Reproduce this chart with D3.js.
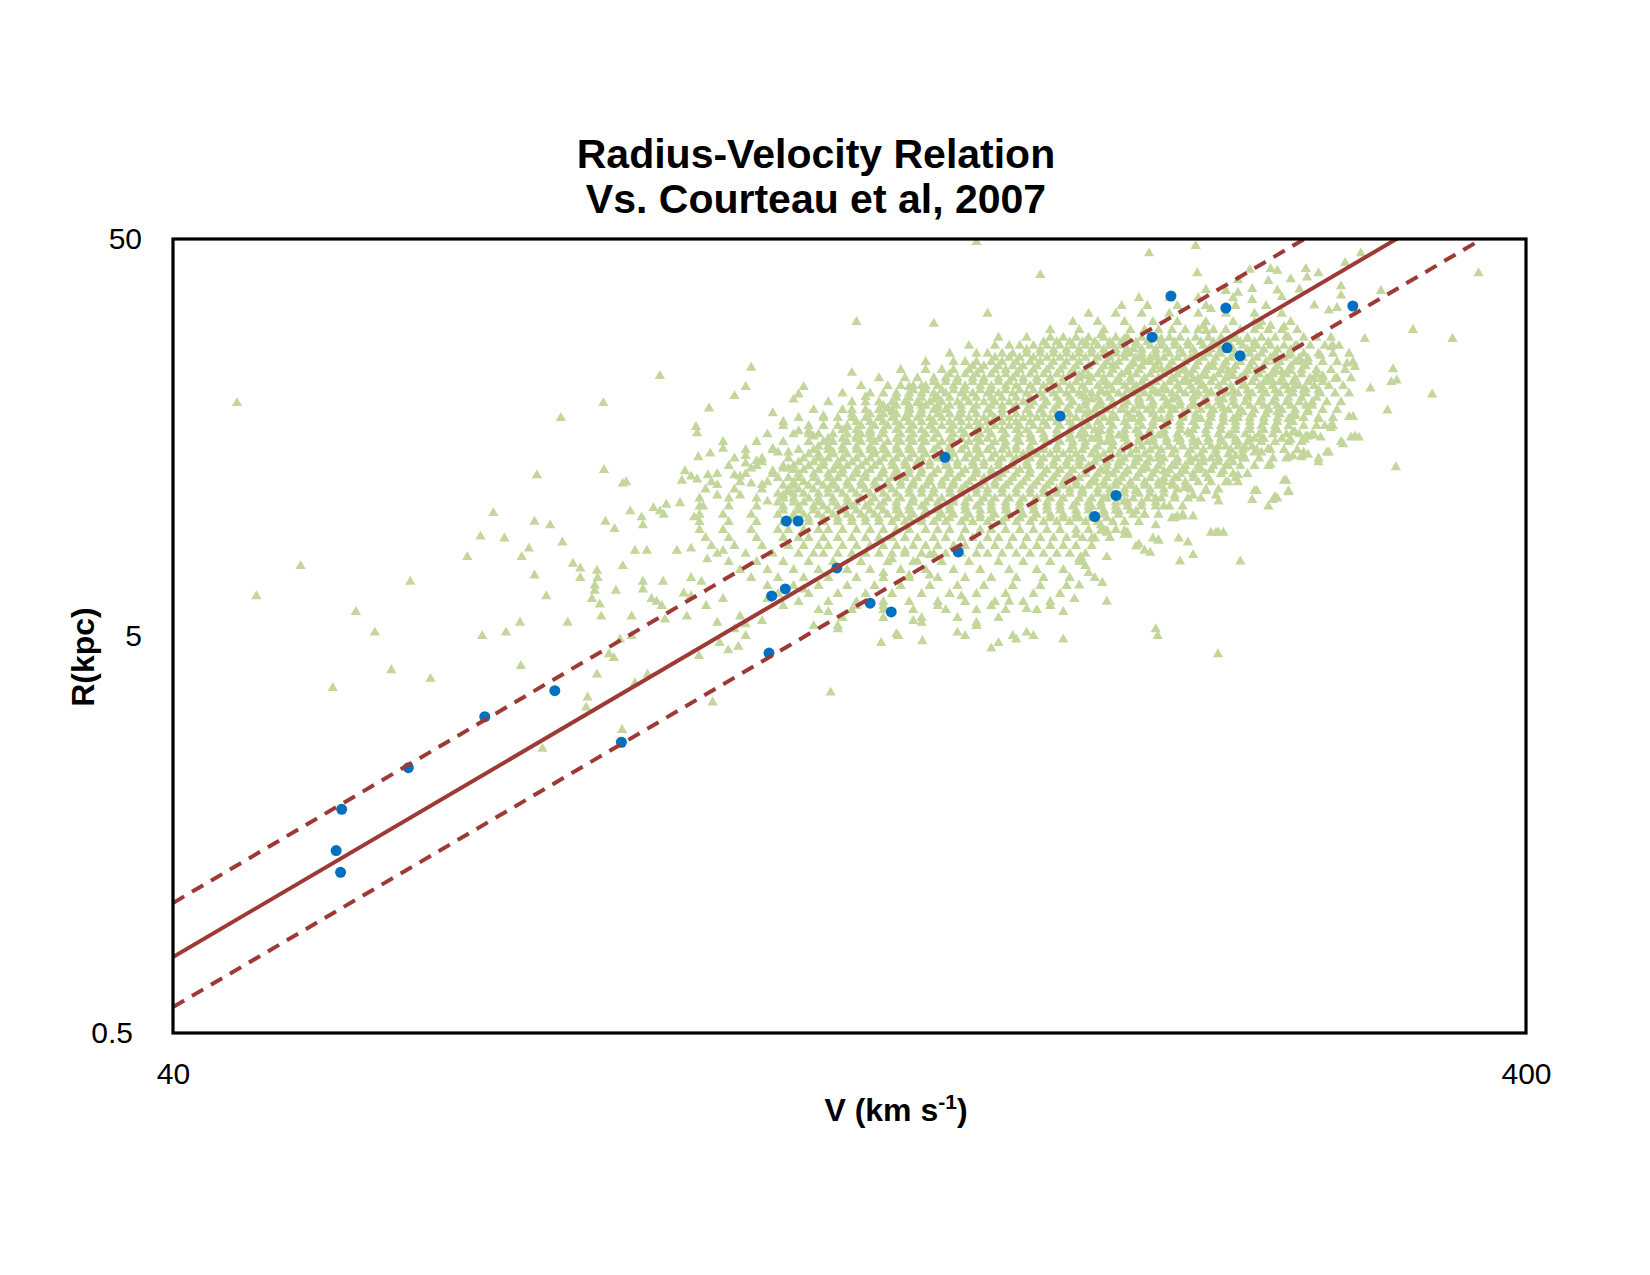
<!DOCTYPE html>
<html>
<head>
  <meta charset="utf-8">
  <title>Radius-Velocity Relation</title>
  <style>
    body { margin: 0; background: #fff; }
    text { font-family: "Liberation Sans", Arial, sans-serif; }
  </style>
</head>
<body>
  <script src="https://cdn.jsdelivr.net/npm/d3@7"></script>
  <script type="text/javascript">

 // Courteau et al. 2007 sample, [V (km/s), R (kpc)] (scattered points)
 var courteau = [
  [44.6,19.3],[49.7,7.5],[46.1,6.3],[54.6,5.75],[56.4,5.1],[59.9,6.85],[66,7.9],[67.5,8.9],[69,10.2],[70.3,8.8],
  [72.4,7.9],[73.3,8.3],[74,9.7],[76,9.5],[74,7.1],[75.5,6.3],[77.6,8.6],[79,7.6],[80,7.4],[80,7.0],
  [82.3,7.3],[82.4,7.0],[82,6.7],[82,6.5],[81.6,6.2],[82.7,6.0],[82.9,5.6],[78.3,5.4],[72.2,5.4],[70.5,5.1],
  [67.7,5.0],[74.3,12.7],[77.4,17.7],[83.2,19.3],[83.3,13.1],[83.5,9.7],[84.8,9.3],[85,6.5],[86,12.1],[86,7.5],
  [52.5,3.7],[58,4.1],[62,3.9],[72.3,4.2],[82.3,4.0],[81,3.5],[80.8,3.3],[75,2.6],[84.7,4.4],[84,4.5],
  [85.6,4.9],[85.9,2.9],[87.3,5.0],[87.8,3.8],[89.7,4.0],[97.9,4.45],[101.4,4.8],[102.9,4.6],[104.7,4.7],[106,5.0],
  [100.2,3.4],[122.5,3.6],[133.5,4.8],[137.4,5.0],[143.2,4.85],[154,5.0],[161,4.65],[163,4.8],[168,4.9],[173,5.0],
  [182,4.9],[236.8,4.5],[213.7,5.0],
  [210.6,46],[228,48],[228.6,41],[259,42],[275.6,40],[281,41],[302,46],[294,43.5],[369,41],[312.5,37],
  [292,38],[292,36],[279,34],[286,33],[290,33.5],[330,29.5],[353,28],[304,28],[287,26.7],[282,25.4],
  [295,24.3],[299,23.8],[319,23.5],[321,22],[318,21.8],[307,21],[341,20.3],[316,18.5],[298,17.8],[301,15.8],
  [297,15.8],[293,15.2],[320.5,13.3],[287,16.7],[282,15.8],[285,14.5],[281,13.7],[276,14.3],[274,14.5],[274.5,15.6],
  [276,15.9],[268,15.6],[269,16.3],[267,14.1],[273,14.1],[259,13.5],[265,12.3],[267,11.5],[261,11.2],[258,10.6],
  [251,11.0],[252,11.6],[246,7.7],[237,9.1],[234,9.1],[227,8.0],[222,7.7],[213,5.2],[196,6.1],[194.5,6.8],
  [192,7.0],[187,6.7],[185.5,6.2],[188,7.7],[187.5,7.9],[196,7.9],[206,8.4],[209,8.2],[211,8.1],[214,8.7],
  [212,8.8],[221.5,8.8],[225,8.6],[219,9.9],[221,10.0],[223,10.0],[202,9.2],[203,9.0],[194,9.2],[196,9.2],
  [191,8.8],[186,9.0],
  [189,27.5],[194,28.6],[198,27.0],[202,28.0],[205,26.4],[215,28.0],[231,30.2],[232,29.3],[234,33.3],[245,36.6],
  [251,35.1],[252,30.9],[259,30.2],[265,30.0],[266,28.4],[264,35.7],[234,26.4],[243,28.0],[249,28.0],[251,26.4],
  [254,30.2],[232,37.2],[240,37.0],[251,37.4],[262,37.1],[272,37.3],[245,39.4],[258,39.2],[268,39.6],[250,41.8],
  [262,41.6],[275,42.0],
  [187,22.6],[190,22.6],[195,22.2],[198,24.0],[202,25.7],[203,23.1],[205,24.2],[208,25.0],[211,24.5],[213,25.2],
  [215,23.5],[220,22.2],[224,23.3],[227,22.2],[232,22.6],[235,23.8],[239,24.0],[241,23.3],[243,22.6],[247,22.5],
  [249,23.3],[253,23.5],[257,22.2],[260,23.1],[261,24.6],[267,25.4],[270,26.9],[273,24.5],[276,25.0],[288,26.9],
  [258,22.2],[264,23.1],[268,23.3],
  [188,20.1],[191,19.7],[194,20.6],[196,21.3],[200,21.8],[202,20.1],[205,20.9],[207,19.7],[209,21.3],[213,20.6],
  [216,20.9],[219,19.7],[221,21.3],[225,21.8],[228,20.1],[230,21.3],[234,20.6],[239,19.7],[243,20.6],[247,21.3],
  [249,20.1],[255,21.3],[260,21.8],[265,21.3],[269,20.9],[271,21.3],[275,20.9],[279,22.2],[283,22.6],[289,22.2],
  [187,18.7],[190,18.3],[194,19.0],[198,17.9],[201,18.7],[205,17.6],[208,19.0],[212,18.3],[215,17.6],[219,18.7],
  [223,17.9],[227,19.0],[230,17.6],[234,18.3],[239,18.7],[243,17.6],[247,18.3],[251,18.1],[258,18.7],[262,18.3],
  [267,17.6],[270,17.9],[276,18.3],[278,19.0],[281,17.6],[288,16.9],[296,17.8],
  [187,16.0],[191,15.7],[194,16.4],[196,15.4],[200,16.0],[203,15.0],[207,16.3],[210,15.4],[214,16.0],[218,15.0],
  [221,15.7],[225,16.3],[229,15.4],[233,15.7],[237,15.0],[241,16.0],[245,15.4],[248,14.9],[252,15.7],[255,15.7],
  [261,16.6],[264,15.7],[270,16.3],[275,15.9],[279,16.0],[284,16.9],[292,15.4],[299,15.9],
  [187,14.0],[190,13.4],[193,14.2],[196,13.0],[200,13.7],[203,13.0],[207,14.0],[210,13.2],[214,14.0],[216,13.0],
  [220,13.4],[224,13.0],[228,14.0],[230,13.2],[234,14.0],[239,13.0],[241,13.4],[244,14.2],[247,14.0],[252,14.5],
  [255,14.5],[258,14.8],[269,14.2],[273,14.2],[281,14.0],[286,14.5],[244,12.5],[233,12.5],[220,12.5],
  [188,11.6],[192,12.2],[195,11.1],[199,12.2],[202,10.9],[206,11.6],[209,12.2],[213,11.1],[216,12.2],[220,11.3],
  [224,11.8],[227,11.3],[232,11.6],[236,11.3],[237,10.9],[241,12.2],[245,12.7],[253,11.6],[260,11.0],[262,11.1],
  [267,11.6],[266,12.3],
  [187,9.9],[191,10.6],[194,9.5],[196,9.1],[200,10.3],[203,9.1],[206,10.3],[209,10.1],[213,9.5],[216,10.6],
  [220,9.9],[223,10.1],[227,10.0],[236,9.1],[239,9.1],[214,8.7],[207,8.5],[202,9.0],[192,8.8],
  [187,7.8],[189,7.5],[190,7.2],
  [157,49.1],[175,40.6],[160,32.4],[146,30.6],[128,30.9],[127,23.0],[107,23.7],[91.6,22.6],
  [86.5,12.2],[87.1,10.3],[88.8,9.95],[89.0,9.5],[90.6,10.5],[91.6,10.3],[92.6,10.7],[92.2,10.1],[94.8,10.8],[95.6,13.0],
  [96.6,12.6],[97.6,12.4],[95.1,12.3],[97.1,9.95],[98.6,10.6],[99.4,12.7],[97.8,14.1],[99.8,14.4],[102,15.4],[102,14.8],
  [106,14.2],[106,13.6],[107,13.2],[108,13.8],[109,13.7],[111,14.8],[112,14.5],[114,14.5],[111,13.0],[113,13.2],
  [114,13.2],[112,12.5],[104,12.7],[105,12.6],[101,12.0],[101,11.3],[105,11.3],[107,12.1],[109,12.0],[110,10.9],
  [113,11.3],[114,11.5],[99.6,18.7],[97.4,16.8],[97.6,16.2],[104,20.1],[106,21.2],[111,18.2],[113,17.3],[115,19.7],
  [116,20.3],[117,21.2],[121,17.9],[116,16.4],[118,16.4],[119,15.9],[122,15.0],[123,14.5],[126,16.8],[127,18.1],
  [130,20.0],[131,16.3],[128,15.9],[132,14.6],[135,18.7],[136,18.3],[140,18.7],[142,19.3],[144,19.0],[146,19.7],
  [147,18.7],[140,21.2],[143,21.3],
  [134,7.2],[136,7.8],[139,8.2],[142,7.7],[145,8.0],[140,7.1],[145,7.1],
  [89.0,6.55],[90.3,6.2],[91.9,5.95],[92.4,5.5],[87.3,5.6],[96.6,6.3],[101,5.4],[104,5.2],[109,5.45],[113,5.95],
  [117,6.55],[122,5.75],[124,5.2],[128,5.95],[134,5.95],[141,5.45],[147,5.95],[153,6.3],[161,5.95],[166,6.1],
  [171,5.85],[178,5.95],[182,5.75],[157,5.3],[152,5.1],[157,5.4],[167,5.0],[171,5.1],[143,5.4],[137,5.05],
  [124,5.3],[119,5.3],[110,6.2],[92.1,6.85],[96.6,7.0],[98.3,6.85],[95.4,6.4],[89.0,6.85],[91.1,6.1],[95.9,5.6],
  [99.1,5.95],[102,6.2],[105,5.6],[106,5.35],[89.6,8.2],[87.8,8.2],[94.3,8.2],[96.6,8.3],[99.3,7.8],[102,8.2]
 ];

 // packed core of the cloud, read row by row: [R (kpc), V values along that row]
 var courteauRows = [
  [35.5, [207,218,229,243]],
  [33.9, [201,210,221,232,244,257]],
  [32.4, [190,199,208,218,229,240,252,264]],
  [30.9, [185,193,202,212,221,232,243,255,268]],
  [29.5, [178,187,195,204,209,214,219,224,229,235,240,246,252,258,264,271]],
  [28.2, [163,171,178,182,186,190,195,199,203,208,213,218,222,228,233,238,244,249,255,261,267,274,280,287]],
  [26.9, [155,162,166,169,173,177,181,185,189,193,197,201,206,211,215,220,225,231,236,241,247,253,259,265,271,277,284,291]],
  [25.7, [150,157,160,164,167,171,175,179,183,187,191,195,199,204,208,213,218,223,228,233,238,244,250,255,261,268,274,281,288,296]],
  [24.5, [144,151,154,157,161,164,168,172,175,179,183,187,192,196,200,205,209,214,219,224,229,235,240,246,251,257,263,270,276,283,290,298]],
  [23.4, [138,144,148,151,155,158,162,165,169,173,177,181,185,189,194,198,203,207,212,217,222,227,232,238,243,249,255,261,267,273,280,287,294]],
  [22.3, [133,139,142,146,149,152,156,159,163,167,170,174,178,182,187,191,195,200,204,209,214,219,224,229,235,240,246,252,258,264,270,277,283,290,297]],
  [21.3, [129,135,138,141,144,147,151,154,158,161,165,168,172,176,180,184,188,193,197,202,206,211,216,221,226,231,237,242,248,254,260,266,272,279,286,293]],
  [20.4, [125,131,134,137,140,143,146,149,153,156,160,163,167,171,175,179,183,187,191,196,200,205,209,214,219,224,229,234,240,245,251,257,263,269,275,282,289,296]],
  [19.4, [122,127,130,133,136,139,142,145,148,152,155,159,162,166,170,173,177,181,185,189,194,198,203,207,212,217,222,227,232,237,243,248,254,260,266,272,278,285,292]],
  [18.55, [119,125,127,130,133,136,140,143,146,149,153,156,160,164,167,171,175,179,183,187,192,196,201,205,210,215,220,225,230,235,241,246,252,258,264,270,276,283,290]],
  [17.7, [116,121,124,127,130,133,136,139,142,145,148,152,155,159,162,166,170,174,178,182,186,190,195,199,204,208,213,218,223,228,234,239,245,250,256,262,268,274,281,288]],
  [16.9, [113,118,121,124,126,129,132,135,138,141,145,148,151,155,158,162,166,169,173,177,181,185,190,194,198,203,208,212,217,222,228,233,238,244,250,255,261,267,274,280,287]],
  [16.1, [110,115,118,120,123,126,129,131,134,138,141,144,147,151,154,158,161,165,169,172,176,180,184,189,193,197,202,207,211,216,221,226,232,237,242,248,254,260,266,272,278]],
  [15.4, [108,113,118,121,123,126,129,132,135,138,141,144,148,151,155,158,162,165,169,173,177,181,185,189,194,198,203,207,212,217,222,227,233,238,244,249,255,261,267,273]],
  [14.7, [106,111,116,119,122,125,128,131,134,137,140,143,146,150,153,157,160,164,168,172,176,180,184,188,192,197,201,206,211,215,220,226,231,236,242,247,253,259,265,271]],
  [14.0, [104,109,114,117,120,122,125,128,131,134,137,140,143,147,150,154,157,161,164,168,172,176,180,184,188,193,197,202,206,211,216,221,226,231,237,242,248,254,260,266]],
  [13.4, [103,108,113,115,118,121,124,126,129,132,136,139,142,145,149,152,156,159,163,167,171,175,179,183,187,191,196,200,205,209,214,219,224,229,235,240,246,252,258]],
  [12.8, [101,106,111,116,119,122,125,128,130,134,137,140,143,146,150,153,157,161,164,168,172,176,180,184,189,193,198,202,207,212,217,222,227,232,238,243,249]],
  [12.2, [100,105,110,115,117,120,123,126,129,132,135,138,141,145,148,151,155,159,162,166,170,174,178,182,186,191,195,200,204,209,214,219,224,229,234,240,245]],
  [11.7, [99,104,109,114,116,119,122,124,127,130,133,136,140,143,146,150,153,157,160,164,168,172,176,180,184,188,193,197,202,206,211,216,221,226,232,237]],
  [11.1, [98,103,108,113,115,118,120,123,126,129,132,135,138,141,145,148,151,155,159,162,166,170,174,178,182,187,191,196,200,205,210,215,220,225,230]],
  [10.6, [98,103,108,113,116,119,121,124,127,130,133,137,140,143,147,150,154,157,161,165,169,173,177,181,185,190,194,199,203,208,213,218,223]],
  [10.1, [98,102,107,112,115,117,120,123,126,129,132,135,138,141,144,148,151,155,158,162,166,170,174,178,182,186,191,195,200,205,209,214]],
  [9.69, [98,103,108,113,116,118,121,124,127,130,133,136,139,143,146,149,153,156,160,164,168,172,176,180,184,189,193,198,202,207]],
  [9.25, [98,102,107,112,114,117,120,122,125,128,131,134,137,140,144,147,150,154,158,161,165,169,173,177,181,186,190,195,199]],
  [8.83, [99,103,108,113,116,118,121,124,127,130,133,136,139,142,146,149,153,156,160,163,167,171,175,179,183,188,192,197]],
  [8.43, [100,104,109,114,117,120,122,125,128,131,134,137,141,144,147,151,154,158,162,166,170,174,178,182,186,191]],
  [8.05, [101,106,111,116,119,121,124,127,130,133,136,139,143,146,149,153,157,160,164,168,172,176,180,184,189]],
  [7.68, [103,108,113,118,123,129,135,141,148,155,163,170,178,187]],
  [7.33, [105,110,115,120,126,131,138,144,151,158,166,174,182]],
  [7.0,  [107,112,117,122,128,134,140,147,154,161,168,176,184]],
  [6.68, [110,115,120,126,132,138,145,152,159,167,175,183]],
  [6.38, [112,118,124,130,136,143,150,157,165,173,181]],
  [6.09, [116,122,128,134,140,147,154,162,170,178]],
  [5.81, [120,127,134,141,149,157,165,174]],
  [5.55, [125,134,143,152,163]],
  // densest band, in between the rows above
  [27.5, [176,180,184,188,192,197,201,206,210,215,220,225,230,235,241,246,252,258]],
  [26.3, [171,175,179,183,187,191,195,199,203,208,213,217,222,227,233,238,243,249,256,262,268]],
  [25.1, [162,166,169,173,177,181,185,189,193,197,202,206,211,216,221,226,231,236,242,247,253,259,265,272]],
  [23.9, [156,159,163,167,170,174,178,182,186,190,195,199,204,208,213,218,223,228,233,239,244,250,256,262,268,275]],
  [22.8, [150,154,157,161,165,168,172,176,180,184,188,193,197,201,206,211,216,221,226,231,237,242,248,254,260,266,273,280]],
  [21.8, [146,149,152,156,159,163,166,170,174,178,182,186,190,195,199,204,208,213,218,223,229,234,239,245,251,257,263,269,276,283]],
  [20.8, [141,144,148,151,154,158,161,165,169,173,177,181,185,189,194,198,203,207,212,217,222,227,232,238,243,249,255,261,267,274,281]],
  [19.9, [137,140,143,147,150,154,157,161,164,168,172,176,180,184,189,193,197,202,207,211,216,221,227,232,237,243,249,255,261,267,273,280]],
  [19.0, [134,137,140,143,147,150,153,157,161,164,168,172,176,180,184,189,193,198,202,207,212,217,222,227,233,238,244,250,256,262,268,275]],
  [18.1, [131,134,137,140,143,147,150,153,157,161,164,168,172,176,180,184,189,193,198,203,207,212,218,223,228,234,239,245,251,257,263,270]],
  [17.3, [128,131,134,137,140,143,146,150,153,157,160,164,168,172,176,180,184,188,193,197,202,207,212,217,222,227,233,239,244,250,256,262,269]],
  [16.5, [125,128,131,134,137,140,143,146,150,153,157,160,164,168,171,175,180,184,188,192,197,202,206,211,216,222,227,232,238,244,250,256,262]],
  [15.7, [122,125,128,131,133,137,140,143,146,150,153,157,160,164,168,172,176,180,184,188,193,197,202,207,212,217,222,227,233,238,244,250,256]],
  [15.0, [120,122,125,128,131,134,137,140,143,147,150,154,157,161,165,168,172,176,180,185,189,193,198,203,208,213,218,223,228,234,240,245,251]],
  [14.35, [118,120,123,126,129,132,135,138,141,144,148,151,155,158,162,166,170,174,178,182,186,191,195,200,204,209,214,219,225,230,236,241,247]],
  [13.7, [116,119,121,124,127,130,133,136,139,142,145,149,152,156,159,163,167,171,175,179,183,187,192,196,201,206,210,215,221,226,231,237,243]],
  [13.1, [115,117,120,123,125,128,131,134,137,140,143,147,150,154,157,161,165,169,172,177,181,185,189,194,199,203,208,213,218,223,229,234]],
  [12.5, [114,116,119,122,124,127,130,133,136,139,142,145,149,152,156,159,163,167,171,175,179,183,187,192,196,201,206,211,216,221,227]],
  [11.95, [113,115,118,121,123,126,129,132,135,138,141,144,148,151,154,158,162,165,169,173,177,182,186,190,195,199,204,209,214,219,224]],
  [11.4, [112,115,117,120,122,125,128,131,134,137,140,143,146,150,153,157,160,164,168,172,176,180,184,188,193,197,202,207,211,216]],
  [10.85, [112,115,117,120,123,126,128,131,134,137,141,144,147,151,154,158,161,165,169,173,177,181,186,190,194,199,203,208,213]],
  [10.35, [113,116,119,122,125,128,131,134,137,140,144,147,150,154,158,161,165,169,173,177,181,186,190,195,199,204]],
  [9.9,  [115,118,121,124,127,130,133,137,140,143,147,150,154,158,161,165,169,173,178,182,186,191,196]]
 ];

 // this work's galaxies
 var sampleV = [53.3, 52.8, 53.2, 59.7, 68.0, 76.6, 85.8, 110.3, 113.6, 115.9, 110.8, 113.4, 123.8,
                131.0, 135.8, 148.8, 152.2, 181.0, 218.6, 211.7, 240.0, 240.5, 245.9, 297.9, 199.1, 192.0];
 var sampleR = [1.83, 1.44, 1.27, 2.33, 3.13, 3.64, 2.70, 4.53, 9.74, 9.74, 6.31, 6.57, 7.42,
                6.05, 5.75, 14.1, 8.14, 17.9, 35.9, 28.3, 33.5, 26.6, 25.4, 33.9, 11.3, 10.0];

 // Courteau relation and its scatter band, end points
 var fitV   = [40, 400];
 var fitR   = [0.777, 77.7];
 var upperR = [1.063, 106.3];
 var lowerR = [0.581, 58.1];

 var xTicks = [40, 400];
 var yTicks = [0.5, 5, 50];

 var margin = {top: 239, right: 124, bottom: 242, left: 173},
     width  = 1650 - margin.left - margin.right,
     height = 1275 - margin.top  - margin.bottom;

 var svg = d3.select("body")
             .append("svg")
             .attr("width", 1650)
             .attr("height", 1275);

 svg.append("rect").attr("width", 1650).attr("height", 1275).attr("fill", "#fff");

 var chart = svg.append("g")
     .attr("transform", "translate(" + margin.left + "," + margin.top + ")");

 var x = d3.scaleLog().domain([40, 400]).range([0, width]);
 var y = d3.scaleLog().domain([0.5, 50]).range([height, 0]);

 chart.append("clipPath").attr("id", "plot-clip")
      .append("rect").attr("width", width).attr("height", height);

 var plot = chart.append("g").attr("clip-path", "url(#plot-clip)");

 var points = courteau.slice();
 courteauRows.forEach(function(row){
   row[1].forEach(function(v){ points.push([v, row[0]]); });
 });

 var tri = d3.symbol().type(d3.symbolTriangle).size(46);

 plot.selectAll(".tri")
     .data(points)
     .enter()
     .append("path")
     .attr("class", "tri")
     .attr("d", tri)
     .attr("transform", function(d){ return "translate(" + x(d[0]) + "," + y(d[1]) + ")"; })
     .attr("fill", "#c3d69b");

 plot.selectAll(".dot")
     .data(sampleV)
     .enter()
     .append("circle")
     .attr("class", "dot")
     .attr("cx", function(d){ return x(d); })
     .attr("cy", function(d, i){ return y(sampleR[i]); })
     .attr("r", 5.5)
     .attr("fill", "#0070c0");

 var line = d3.line()
     .x(function(d){ return x(d[0]); })
     .y(function(d){ return y(d[1]); });

 [[fitR, null], [upperR, "13,9"], [lowerR, "13,9"]].forEach(function(s){
   plot.append("path")
       .datum(fitV.map(function(v, i){ return [v, s[0][i]]; }))
       .attr("d", line)
       .attr("fill", "none")
       .attr("stroke", "#9e3a36")
       .attr("stroke-width", 4)
       .attr("stroke-dasharray", s[1]);
 });

 chart.append("rect")
      .attr("width", width)
      .attr("height", height)
      .attr("fill", "none")
      .attr("stroke", "#000")
      .attr("stroke-width", 3.2);

 var xAxis = chart.append("g")
     .attr("transform", "translate(0," + height + ")")
     .call(d3.axisBottom(x).tickValues(xTicks).tickSize(0).tickPadding(30).tickFormat(d3.format("")));

 var yAxis = chart.append("g")
     .call(d3.axisLeft(y).tickValues(yTicks).tickSize(0).tickPadding(31).tickFormat(function(d){ return d; }));

 [xAxis, yAxis].forEach(function(a){
   a.select(".domain").remove();
   a.selectAll("text")
    .attr("font-family", "'Liberation Sans', Arial, sans-serif")
    .attr("font-size", "30px")
    .attr("fill", "#000");
 });
 yAxis.selectAll("text").filter(function(d){ return d < 1; }).attr("x", -40);

 // title
 svg.append("text")
    .attr("x", 816).attr("y", 168)
    .attr("text-anchor", "middle")
    .attr("font-size", "41px").attr("font-weight", "bold")
    .text("Radius-Velocity Relation");
 svg.append("text")
    .attr("x", 816).attr("y", 213)
    .attr("text-anchor", "middle")
    .attr("font-size", "41px").attr("font-weight", "bold")
    .text("Vs. Courteau et al, 2007");

 // axis titles
 var xt = svg.append("text")
    .attr("x", 896).attr("y", 1121)
    .attr("text-anchor", "middle")
    .attr("font-size", "32px").attr("font-weight", "bold");
 xt.append("tspan").text("V (km s");
 xt.append("tspan").attr("font-size", "21px").attr("dy", -12).text("-1");
 xt.append("tspan").attr("dy", 12).text(")");

 svg.append("text")
    .attr("transform", "translate(94,657) rotate(-90)")
    .attr("text-anchor", "middle")
    .attr("font-size", "32px").attr("font-weight", "bold")
    .text("R(kpc)");

  </script>
</body>
</html>
